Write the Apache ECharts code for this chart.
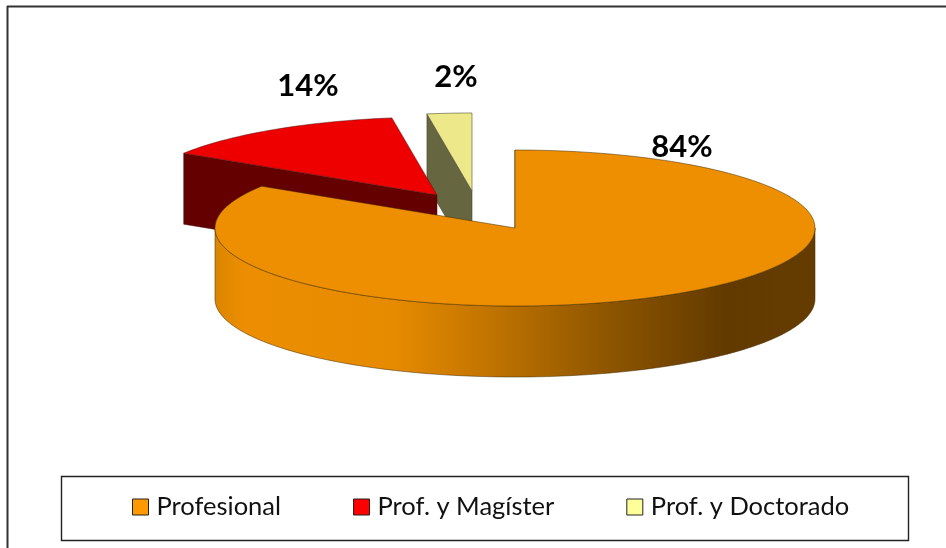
<!DOCTYPE html>
<html>
<head>
<meta charset="utf-8">
<style>html,body{margin:0;padding:0;background:#fff}#c{width:946px;height:548px}</style>
<script src="https://cdn.jsdelivr.net/npm/echarts@6/dist/echarts.min.js"></script>
</head>
<body>
<div id="c"></div>
<script>
var categories = ['Profesional', 'Prof. y Magíster', 'Prof. y Doctorado'];
var shares = [84, 13.6, 2.4];
var topColors = ['#ED8F00', '#EE0000', '#EDE98A'];
var sideColors = ['#653C00', '#650000', '#666640'];
var legendColors = ['#FF9900', '#FF0000', '#FFFF99'];
var edgeColors = ['rgba(70,45,0,0.75)', 'rgba(70,20,20,0.7)', 'rgba(70,70,50,0.8)'];
var explodeX = [0, -78, -43];
var explodeY = [0, -33, -37];
var labelX = [682, 308, 456];
var labelY = [147, 86, 77];

var CX = 515, CY = 228, RX = 300, RY = 78, DEPTH = 71;
var total = shares.reduce(function (a, b) { return a + b; }, 0);
var chart = echarts.init(document.getElementById('c'));

function rad(d) { return d * Math.PI / 180; }

function sliceRender(index) {
  return function (params, api) {
    var before = 0;
    for (var k = 0; k < index; k++) before += shares[k];
    var value = api.value(0);
    var startA = 90 - before / total * 360;
    var endA = startA - value / total * 360;
    var ax = CX + explodeX[index], ay = CY + explodeY[index];
    function rim(deg, drop) {
      return [ax + RX * Math.cos(rad(deg)), ay - RY * Math.sin(rad(deg)) + (drop || 0)];
    }
    var steps = Math.max(4, Math.ceil((startA - endA) / 1.5));
    var topPts = [[ax, ay]];
    for (var i = 0; i <= steps; i++) topPts.push(rim(startA + (endA - startA) * i / steps));

    var children = [];
    var edge = edgeColors[index];

    // cut face along the slice's clockwise-start edge
    var s = rim(startA);
    children.push({
      type: 'polygon',
      shape: { points: [[ax, ay], s, [s[0], s[1] + DEPTH], [ax, ay + DEPTH]] },
      style: { fill: sideColors[index], stroke: edge, lineWidth: 0.7 }
    });

    // curved outer wall: only the part of the rim facing the viewer
    var wallFrom = Math.min(startA, -0), wallTo = Math.max(endA, -180);
    if (endA < 0 && wallFrom > wallTo) {
      var n = Math.ceil((wallFrom - wallTo) / 1.5), upper = [], lower = [];
      for (var j = 0; j <= n; j++) {
        var d = wallFrom + (wallTo - wallFrom) * j / n;
        upper.push(rim(d));
        lower.unshift(rim(d, DEPTH));
      }
      var x0 = CX - RX, x1 = CX + RX;
      children.push({
        type: 'polygon',
        shape: { points: upper.concat(lower) },
        style: {
          fill: new echarts.graphic.LinearGradient(x0, 0, x1, 0, [
            { offset: 0, color: '#DC8500' },
            { offset: 0.05, color: '#EC8E00' },
            { offset: 0.3, color: '#E68A00' },
            { offset: 0.47, color: '#BE7200' },
            { offset: 0.65, color: '#8F5600' },
            { offset: 0.85, color: '#623A00' },
            { offset: 1, color: '#653C00' }
          ], true),
          stroke: edge,
          lineWidth: 0.7
        }
      });
    }

    children.push({
      type: 'polygon',
      shape: { points: topPts },
      style: { fill: topColors[index], stroke: edge, lineWidth: 0.7 }
    });

    children.push({
      type: 'text',
      style: {
        text: Math.round(value) + '%',
        x: labelX[index],
        y: labelY[index],
        align: 'center',
        verticalAlign: 'middle',
        fill: '#000',
        font: 'bold 31px Lato'
      }
    });
    return { type: 'group', children: children };
  };
}

// back-to-front so the large slice overlaps the exploded ones
var drawOrder = [2, 1, 0];
chart.setOption({
  animation: false,
  backgroundColor: '#fff',
  graphic: [
    { type: 'line', shape: { x1: 7, y1: 6.5, x2: 946, y2: 6.5 }, style: { stroke: '#333', lineWidth: 2 }, silent: true },
    { type: 'line', shape: { x1: 7.5, y1: 6, x2: 7.5, y2: 548 }, style: { stroke: '#333', lineWidth: 2 }, silent: true },
    { type: 'rect', shape: { x: 61.5, y: 476.5, width: 847, height: 64 }, style: { fill: 'none', stroke: '#222', lineWidth: 1.4 }, silent: true }
  ],
  legend: {
    left: 127,
    top: 489,
    itemWidth: 16,
    itemHeight: 16,
    itemGap: 72,
    selectedMode: false,
    textStyle: { fontFamily: 'Lato', fontSize: 25.5, color: '#111', padding: [0, 0, 0, 3] },
    data: categories.map(function (c, i) {
      return { name: c, icon: 'rect', itemStyle: { color: legendColors[i], borderColor: '#222', borderWidth: 1 } };
    })
  },
  series: drawOrder.map(function (i) {
    return {
      type: 'custom',
      name: categories[i],
      coordinateSystem: 'none',
      silent: true,
      itemStyle: { color: legendColors[i] },
      renderItem: sliceRender(i),
      data: [[shares[i]]]
    };
  })
});
</script>
</body>
</html>
